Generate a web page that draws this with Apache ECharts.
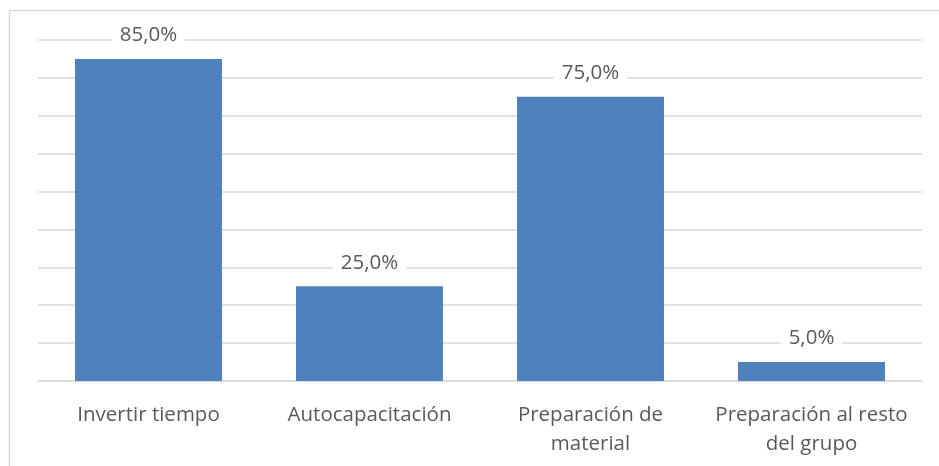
<!DOCTYPE html>
<html>
<head>
<meta charset="utf-8">
<script src="https://cdn.jsdelivr.net/npm/echarts@6/dist/echarts.min.js"></script>
<style>
  html, body { margin: 0; padding: 0; background: #fff; }
  #chart { width: 939px; height: 466px; }
</style>
</head>
<body>
<div id="chart"></div>
<script>
// Activities and the share of respondents for each one (%)
const categories = [
  'Invertir tiempo',
  'Autocapacitación',
  'Preparación de\nmaterial',
  'Preparación al resto\ndel grupo'
];
const values = [85, 25, 75, 5];

const chart = echarts.init(document.getElementById('chart'));
const textColor = '#595959';
const lineColor = '#d9d9d9';
const fontFamily = '"Open Sans", Lato, sans-serif';

chart.setOption({
  animation: false,
  textStyle: { fontFamily: fontFamily },
  graphic: [{
    type: 'rect',
    shape: { x: 9.5, y: 10.5, width: 960, height: 480 },
    style: { fill: 'none', stroke: lineColor, lineWidth: 1.5 },
    silent: true
  }],
  grid: { left: 38, right: 17, top: 40, bottom: 85 },
  xAxis: {
    type: 'category',
    data: categories,
    axisTick: { show: false },
    axisLine: { lineStyle: { color: lineColor, width: 1.5 } },
    axisLabel: {
      color: textColor,
      fontSize: 20.5,
      fontFamily: fontFamily,
      margin: 20,
      lineHeight: 29,
      interval: 0
    }
  },
  yAxis: {
    type: 'value',
    min: 0,
    max: 90,
    interval: 10,
    axisLabel: { show: false },
    axisLine: { show: false },
    axisTick: { show: false },
    splitLine: { lineStyle: { color: lineColor, width: 1.5 } }
  },
  series: [{
    type: 'bar',
    data: values,
    barWidth: '66.5%',
    itemStyle: { color: '#4f81bd' },
    label: {
      show: true,
      position: 'top',
      distance: 11,
      color: textColor,
      fontSize: 20.5,
      fontFamily: fontFamily,
      backgroundColor: '#fff',
      padding: [2, 8],
      formatter: p => p.value.toFixed(1).replace('.', ',') + '%'
    }
  }]
});
</script>
</body>
</html>
